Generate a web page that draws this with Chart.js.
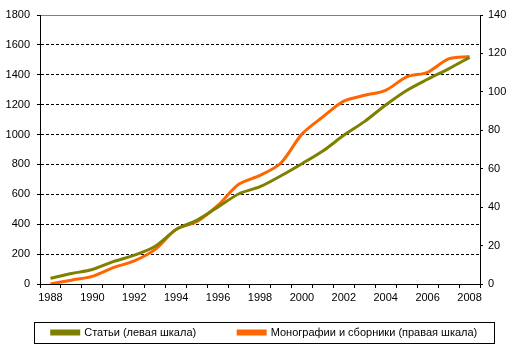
<!DOCTYPE html>
<html>
<head>
<meta charset="utf-8">
<script src="https://cdn.jsdelivr.net/npm/chart.js@4"></script>
<style>
body { margin: 0; background: #fff; }
#wrap { width: 513px; height: 352px; position: relative; }
</style>
</head>
<body>
<div id="wrap"><canvas id="chart"></canvas></div>
<script>
const years = ['1988','1989','1990','1991','1992','1993','1994','1995','1996','1997','1998',
               '1999','2000','2001','2002','2003','2004','2005','2006','2007','2008'];
// статьи, левая шкала
const articles = [38, 70, 97, 150, 193, 253, 365, 427, 516, 604, 651, 724, 805, 890, 995, 1088, 1198, 1295, 1370, 1440, 1516];
// монографии и сборники, правая шкала
const monographs = [0, 2, 4, 8.5, 12, 18, 28.5, 32.5, 41, 52, 56.5, 63, 78, 87, 95.2, 98.2, 100.8, 107.8, 110.2, 117.2, 118.4];
const leftMax = 1800, leftStep = 200;
const rightMax = 140, rightStep = 20;

const font = { family: "'Liberation Sans', Arial, sans-serif", size: 11 };

// сдвиг легенды: немного правее и ближе к оси
const legendShift = {
    id: 'legendShift',
    afterLayout(c) {
        const lg = c.legend;
        lg.left += 8;
        lg.right += 8;
        lg.top = c.chartArea.bottom + 1;
        lg.bottom = c.height;
        lg.height = lg.bottom - lg.top;
    }
};

// рамка вокруг легенды
const legendBox = {
    id: 'legendBox',
    afterDraw(c) {
        const boxes = c.legend.legendHitBoxes;
        if (!boxes || !boxes.length) return;
        const first = boxes[0], last = boxes[boxes.length - 1];
        const x1 = Math.round(first.left - 18), x2 = Math.round(last.left + last.width + 17);
        const y1 = Math.round(first.top + first.height / 2 - 10.5);
        const ctx = c.ctx;
        ctx.save();
        ctx.strokeStyle = '#000';
        ctx.lineWidth = 1;
        ctx.strokeRect(x1 + 0.5, y1 + 0.5, x2 - x1, 21);
        ctx.restore();
    }
};

const chart = document.querySelector('#chart').getContext('2d');
new Chart(chart, {
    type: 'line',
    data: {
        labels: years,
        datasets: [
        {
            label: 'Статьи (левая шкала)',
            data: articles,
            borderColor: '#808000',
            backgroundColor: '#808000',
            borderWidth: 3,
            pointRadius: 0,
            tension: 0.3,
            yAxisID: 'y'
        },
        {
            label: 'Монографии и сборники (правая шкала)',
            data: monographs,
            borderColor: '#FF6600',
            backgroundColor: '#FF6600',
            borderWidth: 3,
            pointRadius: 0,
            tension: 0.3,
            yAxisID: 'y1'
        }
        ]
    },
    options: {
        responsive: true,
        maintainAspectRatio: false,
        animation: false,
        layout: { padding: { top: 15, left: 0, right: 0, bottom: 0 } },
        plugins: {
            tooltip: { enabled: false },
            legend: {
                position: 'bottom',
                maxHeight: 28,
                labels: {
                    boxWidth: 27,
                    boxHeight: 3,
                    padding: 42,
                    color: '#000',
                    font: font
                }
            }
        },
        scales: {
            x: {
                offset: true,
                grid: { offset: true, drawOnChartArea: false, color: '#000', tickLength: 4 },
                border: { color: '#000' },
                ticks: {
                    autoSkip: false,
                    maxRotation: 0,
                    color: '#000',
                    font: font,
                    padding: 3,
                    callback: (v, i) => i % 2 === 0 ? years[i] : ''
                },
                afterFit: s => { s.height = 40; }
            },
            y: {
                position: 'left',
                min: 0,
                max: leftMax,
                ticks: { stepSize: leftStep, color: '#000', font: font, padding: 7, callback: v => String(v) },
                grid: {
                    color: ctx => ctx.tick && ctx.tick.value === leftMax ? '#808080' : '#000',
                    tickColor: '#000',
                    tickLength: 3,
                    tickBorderDash: []
                },
                border: {
                    color: '#000',
                    dash: ctx => ctx.tick && ctx.tick.value === leftMax ? [] : [3, 2]
                },
                afterFit: s => { s.width = 40; }
            },
            y1: {
                position: 'right',
                min: 0,
                max: rightMax,
                ticks: { stepSize: rightStep, color: '#000', font: font, padding: 5, callback: v => String(v) },
                grid: { drawOnChartArea: false, color: '#000', tickLength: 3 },
                border: { color: '#000' },
                afterFit: s => { s.width = 33; }
            }
        }
    },
    plugins: [legendShift, legendBox]
});
</script>
</body>
</html>
